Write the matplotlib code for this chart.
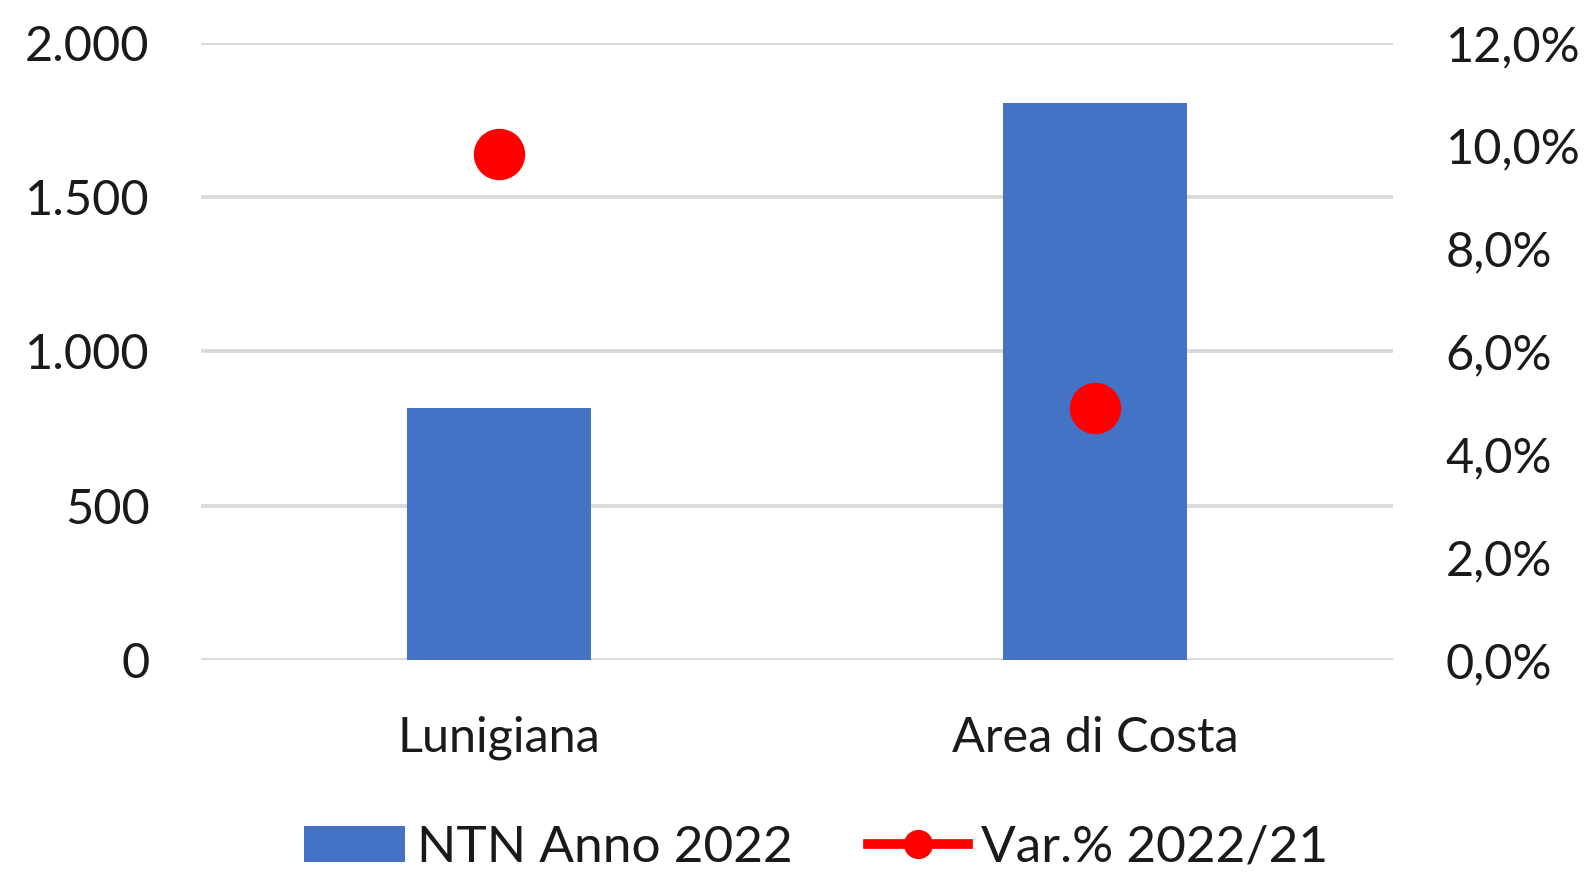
import matplotlib
matplotlib.use('Agg')
import matplotlib.pyplot as plt
from matplotlib.lines import Line2D
from matplotlib.patches import Patch
from matplotlib.ticker import FuncFormatter

categories = ['Lunigiana', 'Area di Costa']
ntn_2022 = [818, 1805]          # NTN Anno 2022
var_pct = [0.0985, 0.049]       # Var.% 2022/21

left_ticks = [0, 500, 1000, 1500, 2000]
right_ticks = [0, 0.02, 0.04, 0.06, 0.08, 0.10, 0.12]

blue = '#4472C4'
red = '#FF0000'
grid_col = '#D9D9D9'
txt_col = '#1A1A1A'

plt.rcParams['font.family'] = ['Lato', 'DejaVu Sans']

fig = plt.figure(figsize=(15.91, 8.74), dpi=100)
ax = fig.add_axes([0.1263, 0.2449, 0.7492, 0.7059])
ax2 = ax.twinx()

x = list(range(len(categories)))
ax.bar(x, ntn_2022, width=0.31, color=blue, zorder=2)
ax.set_xlim(-0.5, 1.5)
ax.set_ylim(0, 2000)
ax.set_yticks(left_ticks)
ax.yaxis.set_major_formatter(FuncFormatter(lambda v, p: f'{int(v):,}'.replace(',', '.')))
ax.grid(axis='y', color=grid_col, linewidth=2.7, zorder=0)
ax.set_axisbelow(True)
ax.set_xticks(x)
ax.set_xticklabels(categories)

ax2.plot(x, var_pct, 'o', color=red, markersize=36, zorder=3)
ax2.set_ylim(0, 0.12)
ax2.set_yticks(right_ticks)
ax2.yaxis.set_major_formatter(FuncFormatter(lambda v, p: f'{v*100:.1f}%'.replace('.', ',')))

for a in (ax, ax2):
    for s in a.spines.values():
        s.set_visible(False)
    a.tick_params(length=0, labelsize=35, labelcolor=txt_col)
ax.tick_params(axis='y', pad=37)
ax2.tick_params(axis='y', pad=38)
ax.tick_params(axis='x', pad=40)

# legend sits right at the bottom edge, like the original
handles = [Patch(facecolor=blue),
           Line2D([0], [0], color=red, linewidth=7, marker='o', markersize=20)]
fig.legend(handles, ['NTN Anno 2022', 'Var.% 2022/21'], loc='center',
           bbox_to_anchor=(0.513, 0.03), ncol=2, frameon=False, fontsize=37,
           handlelength=1.95, handletextpad=0.25, columnspacing=1.45,
           labelcolor=txt_col)

fig.savefig('out.png', dpi=100)
